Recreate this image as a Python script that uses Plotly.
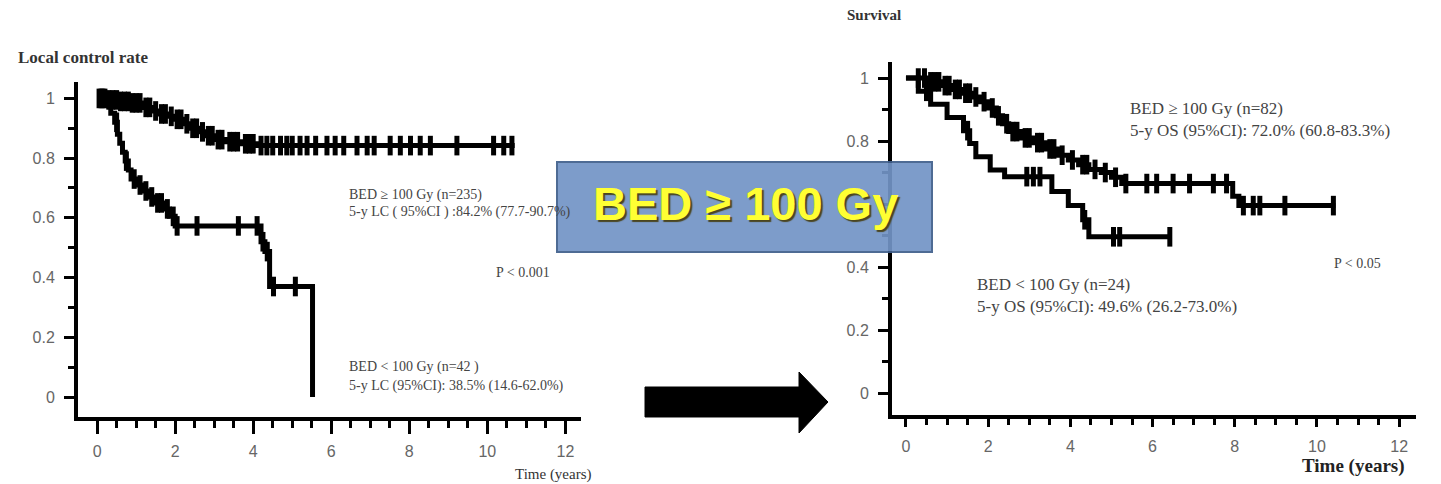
import numpy as np
import plotly.graph_objects as go

W, H = 1441, 484

# ---------------- data ----------------
# Local control, BED >= 100 Gy (n=235)
lc_hi_t = [0, 0.3, 0.6, 0.9, 1.2, 1.4, 1.6, 1.8, 2.0, 2.2, 2.4, 2.6, 2.8, 3.0, 3.3, 3.7, 4.1]
lc_hi_v = [1.0, 0.995, 0.99, 0.985, 0.97, 0.958, 0.948, 0.94, 0.93, 0.915, 0.9, 0.888, 0.875, 0.862, 0.855, 0.848, 0.842]
lc_hi_end = 10.7
lc_hi_cens = [0.05, 0.1, 0.15, 0.2, 0.3, 0.4, 0.5, 0.6, 0.7, 0.8, 0.9, 1.0, 1.1, 1.25, 1.35, 1.5,
              1.65, 1.75, 1.9, 2.05, 2.15, 2.3, 2.45, 2.55, 2.7, 2.85, 2.95, 3.1, 3.2, 3.4, 3.5, 3.6,
              3.8, 3.9, 4.0, 4.2, 4.35, 4.5, 4.7, 4.86, 5.0, 5.2, 5.38, 5.6, 5.89, 6.1, 6.32, 6.66,
              6.92, 7.1, 7.51, 7.77, 8.03, 8.28, 8.54, 9.22, 10.16, 10.42, 10.63]

# Local control, BED < 100 Gy (n=42)
lc_lo_t = [0, 0.3, 0.35, 0.45, 0.52, 0.58, 0.65, 0.72, 0.8, 0.87, 1.0, 1.15, 1.3, 1.5, 1.7, 1.85, 2.0, 4.2, 4.3, 4.42, 5.52]
lc_lo_v = [1.0, 0.975, 0.95, 0.92, 0.88, 0.85, 0.82, 0.79, 0.76, 0.73, 0.71, 0.69, 0.67, 0.65, 0.63, 0.605, 0.573, 0.52, 0.487, 0.37, 0.0]
lc_lo_end = 5.52
lc_lo_cens = [0.5, 0.75, 0.95, 1.1, 1.25, 1.4, 1.55, 1.65, 1.8, 1.95, 2.05, 2.56, 3.62, 4.1, 4.25, 4.36, 4.52, 5.08]

# Overall survival, BED >= 100 Gy (n=82)
os_hi_t = [0, 0.55, 0.85, 1.1, 1.35, 1.6, 1.8, 2.0, 2.2, 2.35, 2.5, 2.8, 3.1, 3.4, 3.7, 3.95, 4.2, 4.45, 4.75, 5.0, 5.25, 7.95, 8.1]
os_hi_v = [1.0, 0.988, 0.976, 0.964, 0.952, 0.94, 0.925, 0.905, 0.88, 0.855, 0.83, 0.81, 0.795, 0.775, 0.755, 0.74, 0.725, 0.71, 0.7, 0.685, 0.665, 0.625, 0.595]
os_hi_end = 10.45
os_hi_cens = [0.3, 0.45, 0.6, 0.7, 0.8, 0.95, 1.05, 1.2, 1.3, 1.45, 1.55, 1.7, 1.9, 2.1, 2.25, 2.45,
              2.6, 2.7, 2.9, 3.0, 3.2, 3.3, 3.5, 3.6, 3.8, 4.05, 4.3, 4.4, 4.6, 4.85, 5.1, 5.35,
              5.86, 6.1, 6.5, 6.9, 7.48, 7.8, 8.21, 8.45, 8.61, 9.22, 10.4]

# Overall survival, BED < 100 Gy (n=24)
os_lo_t = [0, 0.3, 0.6, 1.0, 1.4, 1.55, 1.7, 2.05, 2.4, 3.55, 3.95, 4.3, 4.45]
os_lo_v = [1.0, 0.958, 0.917, 0.875, 0.833, 0.792, 0.75, 0.708, 0.687, 0.64, 0.595, 0.55, 0.496]
os_lo_end = 6.45
os_lo_cens = [0.5, 1.5, 2.94, 3.1, 3.26, 4.35, 5.05, 5.2, 6.42]

x_ticks = [0, 2, 4, 6, 8, 10, 12]
y_ticks = [0, 0.2, 0.4, 0.6, 0.8, 1]
y_tick_labels = ["0", "0.2", "0.4", "0.6", "0.8", "1"]
# on the right panel the 0.6 label is hidden behind the highlight box
y_tick_labels_right = ["0", "0.2", "0.4", "", "0.8", "1"]

# ---------------- helpers ----------------
def px(x):
    return x / W

def py(y):
    return 1 - y / H

def step_curve(t, v, end):
    t = list(t)
    v = list(v)
    if end > t[-1]:
        t.append(end)
        v.append(v[-1])
    return t, v

def step_at(t, v, c):
    t = np.asarray(t)
    v = np.asarray(v)
    idx = np.searchsorted(t, np.asarray(c), side="right") - 1
    return v[idx]

fig = go.Figure()

curves = [
    (lc_hi_t, lc_hi_v, lc_hi_end, lc_hi_cens, "x", "y"),
    (lc_lo_t, lc_lo_v, lc_lo_end, lc_lo_cens, "x", "y"),
    (os_hi_t, os_hi_v, os_hi_end, os_hi_cens, "x2", "y2"),
    (os_lo_t, os_lo_v, os_lo_end, os_lo_cens, "x2", "y2"),
]
for t, v, end, cens, xa, ya in curves:
    st, sv = step_curve(t, v, end)
    fig.add_trace(go.Scatter(x=st, y=sv, mode="lines", line=dict(shape="hv", color="black", width=5),
                             xaxis=xa, yaxis=ya, showlegend=False, hoverinfo="skip"))
    fig.add_trace(go.Scatter(x=cens, y=step_at(t, v, cens), mode="markers",
                             marker=dict(symbol="line-ns-open", size=14, color="black",
                                         line=dict(color="black", width=5)),
                             xaxis=xa, yaxis=ya, showlegend=False, hoverinfo="skip"))

axis_common = dict(showgrid=False, zeroline=False, showline=True, linecolor="black", linewidth=4,
                   ticks="outside", tickcolor="black", tickwidth=3,
                   tickfont=dict(family="Liberation Sans", size=16, color="#666"))

fig.update_layout(
    width=W, height=H, margin=dict(l=0, r=0, t=0, b=0, pad=0),
    paper_bgcolor="white", plot_bgcolor="white", showlegend=False,
    xaxis=dict(domain=[px(78), px(581)], range=[-0.49, 12.4], tickvals=x_ticks, ticklen=13,
               minor=dict(dtick=0.5, tick0=0, ticks="outside", ticklen=7, tickwidth=3, tickcolor="black"),
               anchor="y", ticklabelstandoff=4, **axis_common),
    yaxis=dict(domain=[1 - 417 / H, 1 - 82 / H], range=[-0.067, 1.055], tickvals=y_ticks,
               ticktext=y_tick_labels, ticklen=10,
               minor=dict(dtick=0.1, tick0=0, ticks="outside", ticklen=6, tickwidth=3, tickcolor="black"),
               anchor="x", ticklabelstandoff=6, **axis_common),
    xaxis2=dict(domain=[px(892), px(1416)], range=[-0.34, 12.41], tickvals=x_ticks, ticklen=8,
                minor=dict(dtick=0.5, tick0=0, ticks="outside", ticklen=6, tickwidth=3, tickcolor="black"),
                anchor="y2", ticklabelstandoff=6, **axis_common),
    yaxis2=dict(domain=[1 - 415 / H, 1 - 62 / H], range=[-0.0698, 1.051], tickvals=y_ticks,
                ticktext=y_tick_labels_right, ticklen=10,
                minor=dict(dtick=0.1, tick0=0, ticks="outside", ticklen=6, tickwidth=3, tickcolor="black"),
                anchor="x2", ticklabelstandoff=6, **axis_common),
)

serif = "Liberation Serif"
texts = [
    ("Local control rate", 16, 57, 17, True, "#333"),
    ("BED ≥ 100 Gy (n=235)", 347, 195, 14, False, "#444"),
    ("5-y LC ( 95%CI ) :84.2% (77.7-90.7%)", 347, 212, 14, False, "#444"),
    ("P < 0.001", 494, 272, 14, False, "#444"),
    ("BED < 100 Gy (n=42 )", 347, 367, 14, False, "#444"),
    ("5-y LC (95%CI): 38.5% (14.6-62.0%)", 347, 386, 14, False, "#444"),
    ("Time (years)", 513, 474, 15, False, "#333"),
    ("Survival", 845, 15, 15, True, "#333"),
    ("BED ≥ 100 Gy (n=82)", 1128, 108, 17, False, "#444"),
    ("5-y OS (95%CI): 72.0% (60.8-83.3%)", 1128, 130, 17, False, "#444"),
    ("P < 0.05", 1332, 263, 14, False, "#444"),
    ("BED < 100 Gy (n=24)", 975, 284, 17, False, "#444"),
    ("5-y OS (95%CI): 49.6% (26.2-73.0%)", 975, 306, 17, False, "#444"),
    ("Time (years)", 1300, 466, 19, True, "#222"),
]
for txt, x, y, size, bold, col in texts:
    fig.add_annotation(text=("<b>%s</b>" % txt) if bold else txt, x=px(x), y=py(y),
                       xref="paper", yref="paper", xanchor="left", yanchor="middle", showarrow=False,
                       font=dict(family=serif, size=size, color=col))

# highlighted box and arrow
fig.add_shape(type="rect", xref="paper", yref="paper", x0=px(557), x1=px(932), y0=py(252), y1=py(162),
              fillcolor="#7294c6", opacity=0.92, line=dict(color="#3f5f8c", width=2), layer="above")
fig.add_annotation(text="<b>BED ≥ 100 Gy</b>", x=px(745), y=py(203), xref="paper", yref="paper",
                   xanchor="center", yanchor="middle", showarrow=False,
                   font=dict(family="Liberation Sans", size=47, color="#ffff33",
                             shadow="2px 2px 1px #4a4520"))

arrow = [(645, 387), (799, 387), (799, 372), (828, 402), (799, 433), (799, 417), (645, 417)]
path = "M " + " L ".join("%.5f,%.5f" % (px(a), py(b)) for a, b in arrow) + " Z"
fig.add_shape(type="path", xref="paper", yref="paper", path=path, fillcolor="black",
              line=dict(color="black", width=1), layer="above")

fig.write_html("out.html")
